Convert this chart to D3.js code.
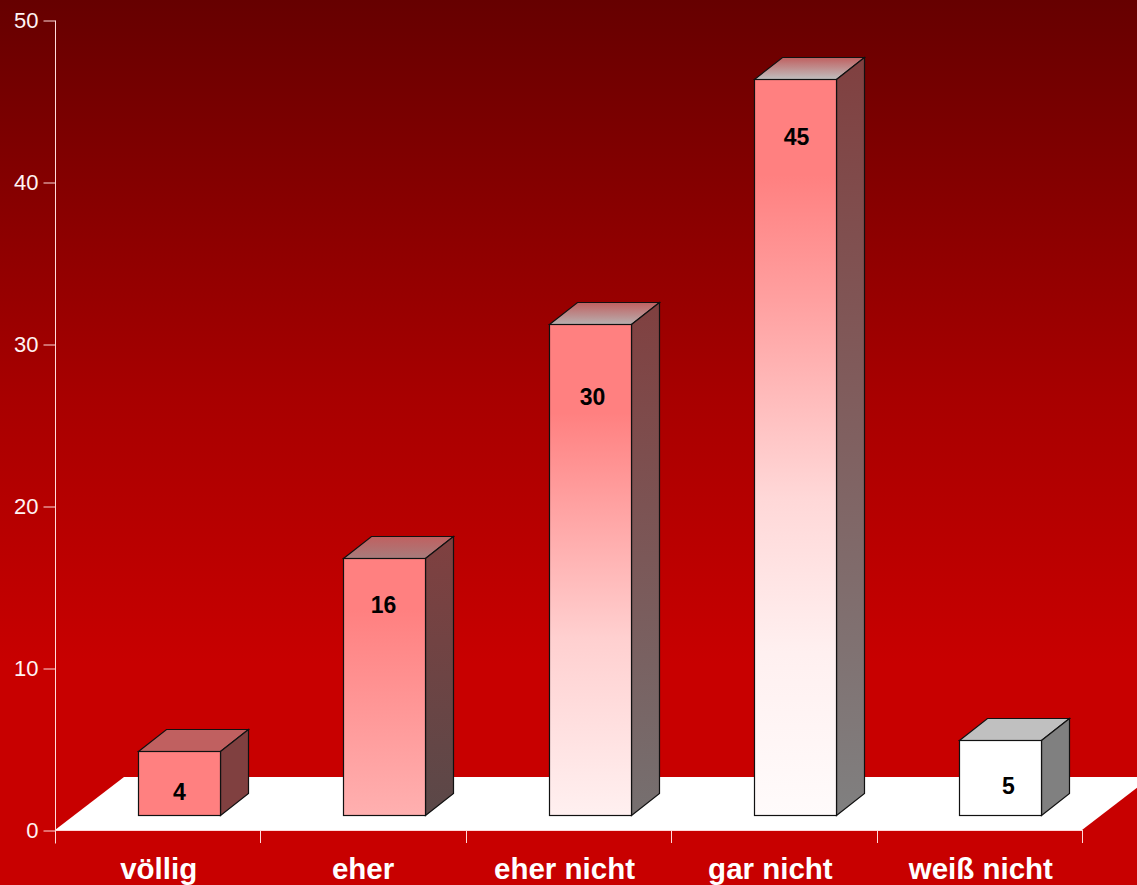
<!DOCTYPE html>
<html><head><meta charset="utf-8">
<script src="https://cdn.jsdelivr.net/npm/d3@7/dist/d3.min.js"></script>
<style>html,body{margin:0;padding:0;background:#c80000;overflow:hidden}svg{display:block}text{font-family:"Liberation Sans",Arial,sans-serif}</style>
</head><body>
<script>
const categories = ["völlig","eher","eher nicht","gar nicht","weiß nicht"];
const values = [3.95,15.85,30.3,45.45,4.6];
const yTicks = [0,10,20,30,40,50];

// appearance per bar
const frontStops = [
  [[0,"#ff8080"],[1,"#ff8080"]],
  [[0,"#ff8080"],[0.2,"#ff8080"],[1,"#ffb0b0"]],
  [[0,"#ff8080"],[0.18,"#ff8080"],[0.36,"#ffa0a0"],[0.64,"#ffd0d0"],[1,"#fff0f0"]],
  [[0,"#ff8080"],[0.13,"#ff8080"],[0.30,"#ffa0a0"],[0.57,"#ffd8d8"],[0.78,"#fff0f0"],[1,"#fffbfb"]],
  [[0,"#ffffff"],[1,"#ffffff"]]
];
const sideEnds = [["#804040","#804040"],["#804040","#5a4848"],["#804040","#767070"],["#804040","#808080"],["#808080","#808080"]];
const topEnds = [["#c06060","#c06060"],["#c06060","#a87c7c"],["#c06060","#b8b0b0"],["#c06060","#bfbfbf"],["#c0c0c0","#c0c0c0"]];
const labelNudge = [[0,40.5],[-1,46],[2,72.5],[1,57.5],[8,45]];
const categoryNudge = [1,0,-4,-3.5,1.5];

const W=1137,H=885, depthX=28, depthY=22, floorX=69, floorY=53, lift=15;
const svg=d3.select("body").append("svg").attr("width",W).attr("height",H);
const defs=svg.append("defs");
function grad(id,stops,x1,y1,x2,y2){
  const g=defs.append("linearGradient").attr("id",id).attr("x1",x1).attr("y1",y1).attr("x2",x2).attr("y2",y2);
  stops.forEach(s=>g.append("stop").attr("offset",s[0]).attr("stop-color",s[1]));
}
grad("bg",[[0,"#660000"],[0.45,"#a80000"],[0.75,"#c80000"],[1,"#c80000"]],0,0,0,1);
svg.append("rect").attr("width",W).attr("height",H).attr("fill","url(#bg)");

const x=d3.scaleBand().domain(categories).range([55,1082]);
const y=d3.scaleLinear().domain([0,50]).range([830,20]);
const axisCol="#ffdada";

// floor
const fl=d3.path();
fl.moveTo(x.range()[0],y(0));fl.lineTo(x.range()[0]+floorX,y(0)-floorY);
fl.lineTo(x.range()[1]+floorX,y(0)-floorY);fl.lineTo(x.range()[1],y(0));fl.closePath();
svg.append("path").attr("d",fl.toString()).attr("fill","#fff");

// axes
const ya=svg.append("g").attr("transform",`translate(${x.range()[0]+.5},0.5)`)
  .call(d3.axisLeft(y).tickValues(yTicks).tickSize(12).tickSizeOuter(0).tickPadding(5));
ya.select(".domain").attr("stroke",axisCol).attr("d",`M0,${y(50)}V${y(0)+13}`);
ya.selectAll(".tick line").attr("stroke",axisCol);
ya.selectAll(".tick text").attr("fill","#fff4f4").attr("font-size",22).attr("font-family",'"Liberation Sans",Arial,sans-serif').attr("dy","0.31em");

const xa=svg.append("g").attr("transform",`translate(0,${y(0)+.5})`)
  .call(d3.axisBottom(x).tickSize(0).tickPadding(0));
xa.select(".domain").attr("stroke",axisCol).attr("d",`M${x.range()[0]},0H${x.range()[1]}`);
xa.selectAll(".tick text").attr("fill","#fff").attr("font-size",29.5).attr("font-weight","bold")
  .attr("font-family",'"Liberation Sans",Arial,sans-serif').attr("y",48).attr("dy",0)
  .attr("x",(d,i)=>categoryNudge[i]);
svg.append("g").selectAll("line").data(d3.range(categories.length+1)).join("line")
  .attr("x1",i=>Math.round(x.range()[0]+i*x.bandwidth())+.5).attr("x2",i=>Math.round(x.range()[0]+i*x.bandwidth())+.5)
  .attr("y1",y(0)).attr("y2",y(0)+13).attr("stroke",axisCol);

// bars
const barW=82, barOff=83;
const base=y(0)-lift, unit=y(0)-y(1);
categories.forEach((c,i)=>{
  grad("front"+i,frontStops[i],0,0,0,1);
  grad("side"+i,sideEnds[i].map((k,j)=>[j,k]),0,0,0,1);
  grad("top"+i,topEnds[i].map((k,j)=>[j,k]),0,0,0,1);
});
const g=svg.selectAll("g.bar").data(values).join("g").attr("class","bar");
const sc="#111", sw=1.2;
g.each(function(v,i){
  const s=d3.select(this);
  const l=Math.round(x(categories[i])+barOff-0.1*i)+.5, r=l+barW, t=Math.round(base-v*unit)+.5, b=base+.5;
  s.append("path").attr("d",`M${l},${t}L${l+depthX},${t-depthY}H${r+depthX}L${r},${t}Z`).attr("fill",`url(#top${i})`).attr("stroke",sc).attr("stroke-width",sw);
  s.append("path").attr("d",`M${r},${t}L${r+depthX},${t-depthY}V${b-depthY}L${r},${b}Z`).attr("fill",`url(#side${i})`).attr("stroke",sc).attr("stroke-width",sw);
  s.append("rect").attr("x",l).attr("y",t).attr("width",barW).attr("height",b-t).attr("fill",`url(#front${i})`).attr("stroke",sc).attr("stroke-width",sw);
  s.append("text").attr("x",(l+r)/2+labelNudge[i][0]).attr("y",t+labelNudge[i][1]).attr("dy","0.36em")
    .attr("text-anchor","middle").attr("font-size",23).attr("font-weight","bold").attr("fill","#000")
    .text(d3.format(".0f")(v));
});
</script>
</body></html>
